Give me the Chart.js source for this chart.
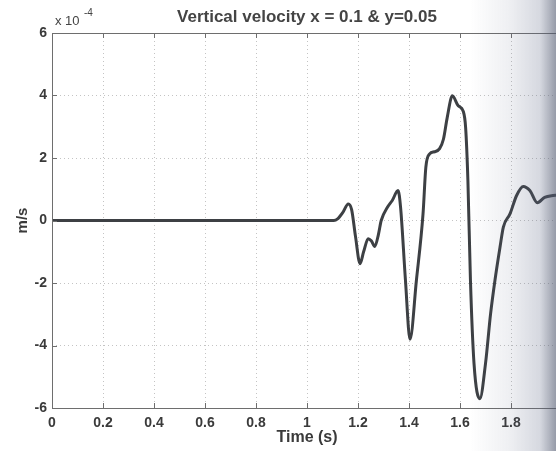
<!DOCTYPE html>
<html>
<head>
<meta charset="utf-8">
<script src="https://cdn.jsdelivr.net/npm/chart.js@4.4.1/dist/chart.umd.min.js"></script>
<style>
  html, body { margin: 0; padding: 0; background: #fff; overflow: hidden; }
  #wrap { position: relative; width: 556px; height: 451px; overflow: hidden; }
  #shade {
    position: absolute; left: 0; top: 0; width: 556px; height: 451px; pointer-events: none;
    background: linear-gradient(to right, rgba(90,100,130,0) 470px, rgba(90,100,130,0.1) 510px,
      rgba(90,100,130,0.25) 540px, rgba(80,88,110,0.6) 556px);
  }
</style>
</head>
<body>
<div id="wrap">
  <canvas id="myChart" width="580" height="451"></canvas>
  <div id="shade"></div>
</div>
<script>
// time (s) and vertical velocity (x 1e-4 m/s)
const tiempo = [0, 0.25, 0.5, 0.75, 1.0, 1.08, 1.105, 1.12, 1.14, 1.162, 1.175, 1.19, 1.208, 1.222,
  1.24, 1.252, 1.266, 1.28, 1.291, 1.316, 1.335, 1.357, 1.367, 1.386, 1.404, 1.429, 1.455, 1.466,
  1.481, 1.50, 1.52, 1.535, 1.55, 1.57, 1.593, 1.613, 1.622, 1.631, 1.641, 1.655, 1.678, 1.70,
  1.72, 1.737, 1.757, 1.77, 1.796, 1.822, 1.848, 1.874, 1.903, 1.932, 1.965, 2.0];
const velocidad = [0, 0, 0, 0, 0, 0, 0, 0.05, 0.25, 0.53, 0.35, -0.5, -1.38, -1.0,
  -0.58, -0.65, -0.83, -0.45, 0.0, 0.43, 0.65, 0.96, 0.42, -1.9, -3.8, -1.92, 0.21, 1.7,
  2.13, 2.2, 2.3, 2.6, 3.3, 3.99, 3.67, 3.49, 2.98, 1.28, -1.92, -4.58, -5.7, -4.58,
  -2.98, -1.92, -0.85, -0.21, 0.21, 0.8, 1.09, 0.96, 0.57, 0.74, 0.8, 0.82];
const xTicks = [0, 0.2, 0.4, 0.6, 0.8, 1, 1.2, 1.4, 1.6, 1.8, 2];
const yTicks = [-6, -4, -2, 0, 2, 4, 6];

const titulo = 'Vertical velocity x = 0.1 & y=0.05';
const fuente = '"Liberation Sans", Arial, sans-serif';

let puntos = [];
for (let i = 0; i < tiempo.length; i++) {
  puntos.push({ x: tiempo[i], y: velocidad[i] });
}

// marco, marcas hacia dentro, titulo y exponente estilo matlab
const decoraciones = {
  id: 'decoraciones',
  afterDraw(chart) {
    const ctx = chart.ctx;
    const a = chart.chartArea;
    const sx = chart.scales.x, sy = chart.scales.y;
    ctx.save();
    ctx.strokeStyle = '#6e6e6e';
    ctx.lineWidth = 1;
    ctx.strokeRect(a.left + 0.5, a.top + 0.5, a.right - a.left, a.bottom - a.top);
    ctx.beginPath();
    xTicks.forEach(function (t) {
      const px = Math.round(sx.getPixelForValue(t)) + 0.5;
      ctx.moveTo(px, a.bottom); ctx.lineTo(px, a.bottom - 5);
      ctx.moveTo(px, a.top); ctx.lineTo(px, a.top + 5);
    });
    yTicks.forEach(function (v) {
      const py = Math.round(sy.getPixelForValue(v)) + 0.5;
      ctx.moveTo(a.left, py); ctx.lineTo(a.left + 5, py);
    });
    ctx.stroke();

    ctx.fillStyle = '#444';
    ctx.textAlign = 'center';
    ctx.textBaseline = 'middle';
    ctx.font = 'bold 17px ' + fuente;
    ctx.fillText(titulo, (a.left + a.right) / 2, 17);

    ctx.textAlign = 'left';
    ctx.textBaseline = 'alphabetic';
    ctx.font = '13px ' + fuente;
    ctx.fillText('x 10', a.left + 3, 25);
    ctx.font = '10px ' + fuente;
    ctx.fillText('-4', a.left + 32, 16);
    ctx.restore();
  }
};

const ctx = document.getElementById('myChart').getContext('2d');
const chart = new Chart(ctx, {
  type: 'line',
  data: {
    datasets: [{
      data: puntos,
      borderColor: '#3d4044',
      borderWidth: 3,
      pointRadius: 0,
      fill: false,
      cubicInterpolationMode: 'monotone'
    }]
  },
  options: {
    responsive: false,
    animation: false,
    layout: { padding: { top: 33, right: 18, left: 0, bottom: 0 } },
    plugins: { legend: { display: false }, tooltip: { enabled: false }, title: { display: false } },
    scales: {
      x: {
        type: 'linear',
        min: 0, max: 2,
        afterFit: function (s) { s.height = 43; },
        afterBuildTicks: function (s) { s.ticks = xTicks.map(v => ({ value: v })); },
        grid: { color: '#c4c4c4', lineWidth: 1, drawTicks: false },
        border: { display: false, dash: [1, 3] },
        ticks: {
          padding: 7, color: '#3a3a3a', maxRotation: 0,
          font: { family: fuente, size: 14, weight: 'bold' },
          callback: v => String(v)
        },
        title: {
          display: true, text: 'Time (s)', color: '#3a3a3a',
          font: { family: fuente, size: 16, weight: 'bold' },
          padding: { top: 0, bottom: 4 }
        }
      },
      y: {
        min: -6, max: 6,
        afterFit: function (s) { s.width = 52; },
        afterBuildTicks: function (s) { s.ticks = yTicks.map(v => ({ value: v })); },
        grid: { color: '#c4c4c4', lineWidth: 1, drawTicks: false },
        border: { display: false, dash: [1, 3] },
        ticks: {
          padding: 5, color: '#3a3a3a',
          font: { family: fuente, size: 14, weight: 'bold' }
        },
        title: {
          display: true, text: 'm/s', color: '#3a3a3a',
          font: { family: fuente, size: 15, weight: 'bold' },
          padding: { top: 14, bottom: 0 }
        }
      }
    }
  },
  plugins: [decoraciones]
});
</script>
</body>
</html>
